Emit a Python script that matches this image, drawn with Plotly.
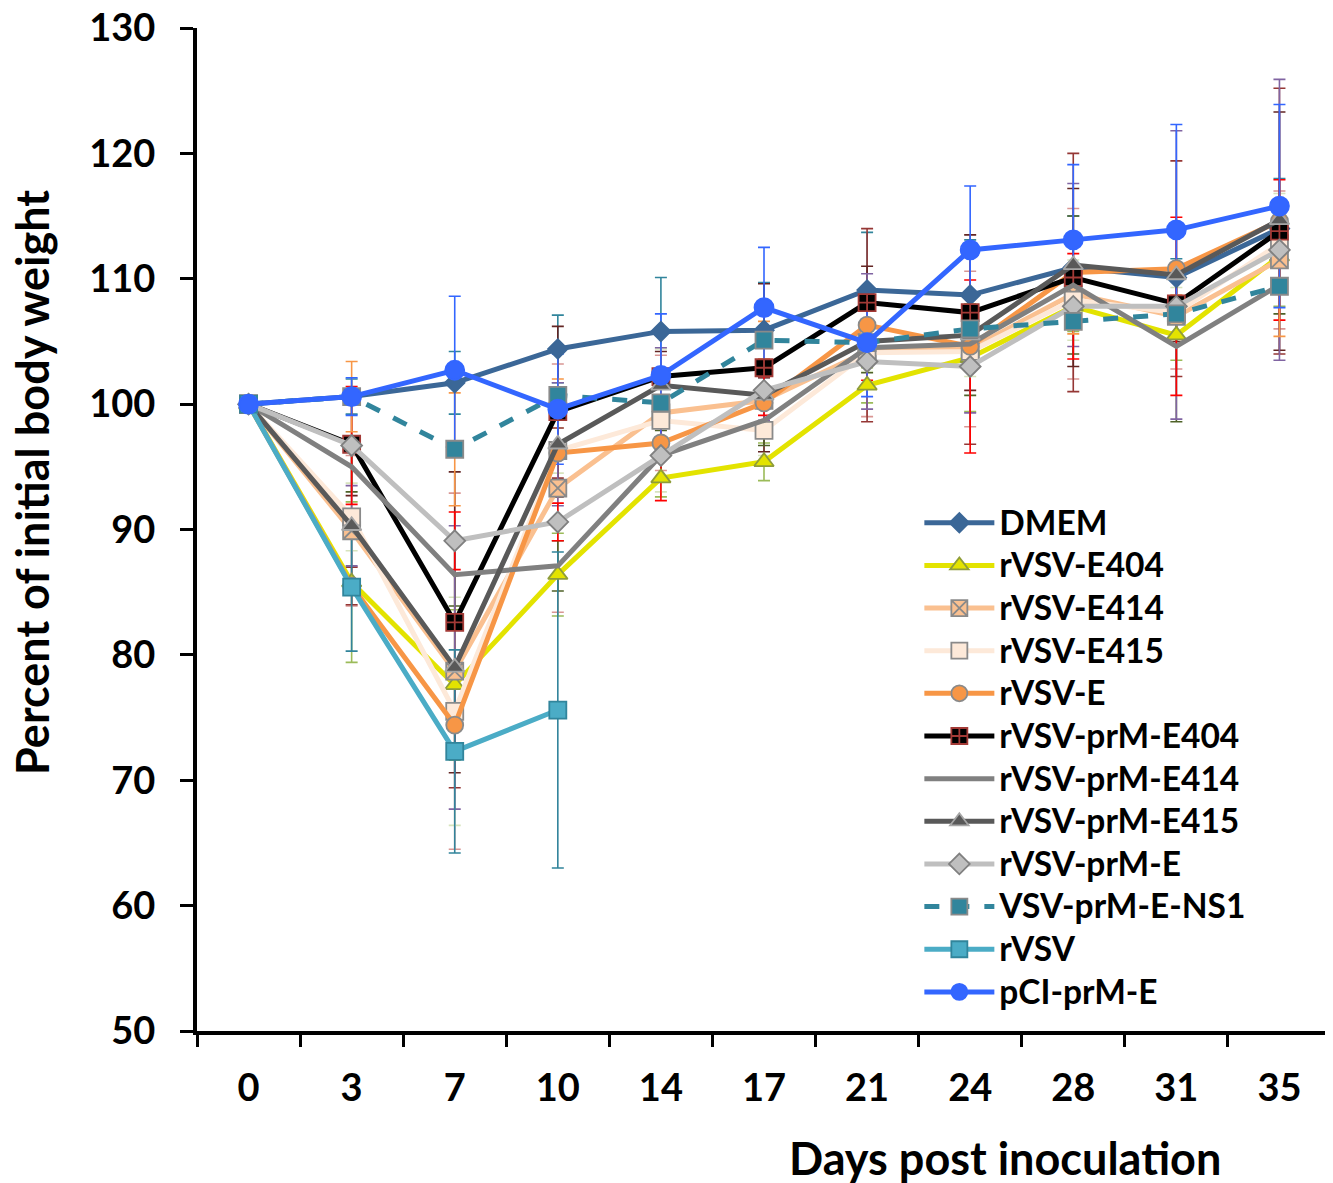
import plotly.graph_objects as go

days = ["0", "3", "7", "10", "14", "17", "21", "24", "28", "31", "35"]

dmem       = [100, 100.6, 101.7, 104.4, 105.8, 105.9, 109.1, 108.7, 110.9, 110.1, 114.0]
e404       = [100, 85.8, 77.6, 86.4, 94.1, 95.4, 101.5, 103.7, 107.8, 105.5, 111.8]
e414       = [100, 89.9, 78.7, 93.3, 99.3, 100.3, 104.2, 104.4, 108.8, 107.0, 111.5]
e415       = [100, 91.0, 75.5, 96.3, 98.7, 97.9, 104.1, 104.2, 108.3, 107.3, 112.8]
rvsv_e     = [100, 85.5, 74.4, 96.1, 96.9, 100.1, 106.3, 104.6, 110.5, 110.8, 114.6]
prm_e404   = [100, 96.8, 82.6, 99.4, 102.2, 102.9, 108.1, 107.3, 110.1, 108.0, 113.8]
prm_e414   = [100, 95.0, 86.4, 87.1, 95.9, 98.7, 104.5, 104.8, 109.5, 104.6, 109.5]
prm_e415   = [100, 90.3, 79.0, 96.8, 101.5, 100.7, 105.0, 105.5, 111.1, 110.3, 114.7]
prm_e      = [100, 96.7, 89.1, 90.6, 95.9, 101.1, 103.4, 103.0, 107.8, 107.8, 112.3]
ns1        = [100, 100.6, 96.4, 100.7, 100.1, 105.1, 104.9, 106.0, 106.6, 107.2, 109.4]
rvsv       = [100, 85.4, 72.3, 75.6, None, None, None, None, None, None, None]
pci        = [100, 100.6, 102.7, 99.6, 102.3, 107.7, 104.9, 112.3, 113.1, 113.9, 115.8]

err_dmem     = [0, 1.4, 2.5, 2.7, 4.3, 3.8, 4.6, 4.4, 4.1, 1.5, 4.0]
err_e404     = [0, 6.4, 6.0, 3.3, 1.5, 1.5, 1.4, 4.3, 2.0, 2.0, 4.0]
err_e414     = [0, 6.0, 14.2, 9.9, 4.6, 2.0, 5.2, 6.2, 6.8, 4.2, 5.5]
err_e415     = [0, 2.7, 9.1, 1.8, 5.7, 2.0, 1.5, 2.0, 3.2, 2.0, 4.0]
err_rvsv_e   = [0, 1.5, 5.0, 2.0, 3.0, 2.0, 7.7, 7.8, 9.5, 8.6, 10.6]
err_prm_e404 = [0, 4.1, 12.0, 6.8, 2.0, 6.7, 2.9, 6.2, 7.1, 3.0, 9.5]
err_prm_e414 = [0, 2.0, 2.5, 2.0, 2.0, 2.0, 2.0, 4.1, 5.5, 6.0, 2.3]
err_prm_e415 = [0, 3.2, 11.3, 4.9, 3.0, 2.0, 5.4, 6.2, 6.5, 11.5, 11.2]
err_prm_e    = [0, 4.7, 2.3, 1.5, 3.6, 2.0, 1.5, 6.9, 4.2, 7.1, 5.6]
err_ns1      = [0, 2.8, 4.5, 1.3, 1.5, 1.5, 1.0, 1.5, 1.0, 1.5, 4.0]
err_rvsv     = [0, 5.1, 8.1, 12.6, 0, 0, 0, 0, 0, 0, 0]
err_pci      = [0, 1.5, 5.9, 4.4, 4.9, 4.8, 4.3, 5.1, 6.0, 8.4, 8.1]

series = [
    dict(name="DMEM", y=dmem, err=err_dmem, ecol="#31859c", lcol="#3b6797", dash="solid",
         sym="diamond", mcol="#3b6797", mline="#3b6797", msize=15, mode="lines+markers"),
    dict(name="rVSV-E404", y=e404, err=err_e404, ecol="#9bbb59", lcol="#e3e300", dash="solid",
         sym="triangle-up", mcol="#e3e300", mline="#8f9d3a", msize=17, mode="lines+markers"),
    dict(name="rVSV-E414", y=e414, err=err_e414, ecol="#d99694", lcol="#fac090", dash="solid",
         sym="square-x", mcol="#fac090", mline="#8a8a8a", msize=17, mode="lines+markers"),
    dict(name="rVSV-E415", y=e415, err=err_e415, ecol="#d7e4bd", lcol="#fde9d9", dash="solid",
         sym="square", mcol="#fde9d9", mline="#8a8a8a", msize=17, mode="lines+markers"),
    dict(name="rVSV-E", y=rvsv_e, err=err_rvsv_e, ecol="#953735", lcol="#f79646", dash="solid",
         sym="circle", mcol="#f79646", mline="#8a8a8a", msize=17, mode="lines+markers"),
    dict(name="rVSV-prM-E404", y=prm_e404, err=err_prm_e404, ecol="#632523", lcol="#000000", dash="solid",
         sym="square-cross", mcol="#000000", mline="#a33a36", msize=17, mode="lines+markers"),
    dict(name="rVSV-prM-E414", y=prm_e414, err=err_prm_e414, ecol="#4f6228", lcol="#808080", dash="solid",
         sym="circle", mcol="#808080", mline="#808080", msize=1, mode="lines"),
    dict(name="rVSV-prM-E415", y=prm_e415, err=err_prm_e415, ecol="#8064a2", lcol="#595959", dash="solid",
         sym="triangle-up", mcol="#595959", mline="#a6a6a6", msize=17, mode="lines+markers"),
    dict(name="rVSV-prM-E", y=prm_e, err=err_prm_e, ecol="#ff0000", lcol="#bfbfbf", dash="solid",
         sym="diamond", mcol="#bfbfbf", mline="#808080", msize=16, mode="lines+markers"),
    dict(name="VSV-prM-E-NS1", y=ns1, err=err_ns1, ecol="#f79646", lcol="#31859c", dash="dash",
         sym="square", mcol="#31859c", mline="#8a8a8a", msize=17, mode="lines+markers"),
    dict(name="rVSV", y=rvsv, err=err_rvsv, ecol="#31849b", lcol="#4bacc6", dash="solid",
         sym="square", mcol="#4bacc6", mline="#31859c", msize=17, mode="lines+markers"),
    dict(name="pCI-prM-E", y=pci, err=err_pci, ecol="#3366ff", lcol="#3366ff", dash="solid",
         sym="circle", mcol="#3366ff", mline="#3366ff", msize=19, mode="lines+markers"),
]

fig = go.Figure()

# error bars (drawn beneath all lines)
for s in series:
    fig.add_trace(go.Scatter(
        x=days, y=s["y"], mode="markers",
        marker=dict(size=2, color="rgba(0,0,0,0)"),
        error_y=dict(type="data", array=s["err"], visible=True, color=s["ecol"],
                     thickness=1.6, width=6),
        showlegend=False, hoverinfo="skip"))

for s in series:
    fig.add_trace(go.Scatter(
        x=days, y=s["y"], name="<span style='font-size:33.5px'>" + s["name"] + "</span>",
        mode=s["mode"],
        line=dict(color=s["lcol"], width=5, dash=s["dash"]),
        marker=dict(symbol=s["sym"], size=s["msize"], color=s["mcol"],
                    line=dict(color=s["mline"], width=1.8)),
        connectgaps=False))

font_family = "Lato"

fig.update_layout(
    width=1325, height=1175,
    margin=dict(l=189, r=2, t=20, b=152, autoexpand=False),
    plot_bgcolor="white", paper_bgcolor="white",
    font=dict(family=font_family, color="black", size=30, weight="bold"),
    showlegend=True,
    legend=dict(x=0.637, y=0.533, xanchor="left", yanchor="top",
                bgcolor="rgba(0,0,0,0)", borderwidth=0,
                font=dict(family=font_family, size=30.5, color="black", weight="bold"),
                itemwidth=70, traceorder="normal"),
    xaxis=dict(type="category", range=[-0.5, 10.5], showline=True, linecolor="black",
               linewidth=4, ticks="outside", ticklen=12, tickwidth=3, tickcolor="black",
               tickson="boundaries", showgrid=False, zeroline=False, automargin=False,
               tickfont=dict(family=font_family, size=38, color="black", weight="bold"),
               ticklabelstandoff=20, ticklabeloverflow="allow"),
    yaxis=dict(range=[50, 130], dtick=10, tick0=50, showline=True, linecolor="black",
               linewidth=4, ticks="outside", ticklen=13, tickwidth=3, tickcolor="black",
               showgrid=False, zeroline=False, automargin=False,
               tickfont=dict(family=font_family, size=38, color="black", weight="bold"),
               ticklabelstandoff=17, ticklabeloverflow="allow"),
    annotations=[
        dict(text="Percent of initial body weight", xref="paper", yref="paper",
             x=-0.145, y=0.547, xanchor="center", yanchor="middle", textangle=-90,
             showarrow=False, font=dict(family=font_family, size=45, color="black", weight="bold")),
        dict(text="Days post inoculation", xref="paper", yref="paper",
             x=0.7125, y=-0.1266, xanchor="center", yanchor="middle",
             showarrow=False, font=dict(family=font_family, size=45, color="black", weight="bold")),
    ],
)

fig.write_html("out.html")
